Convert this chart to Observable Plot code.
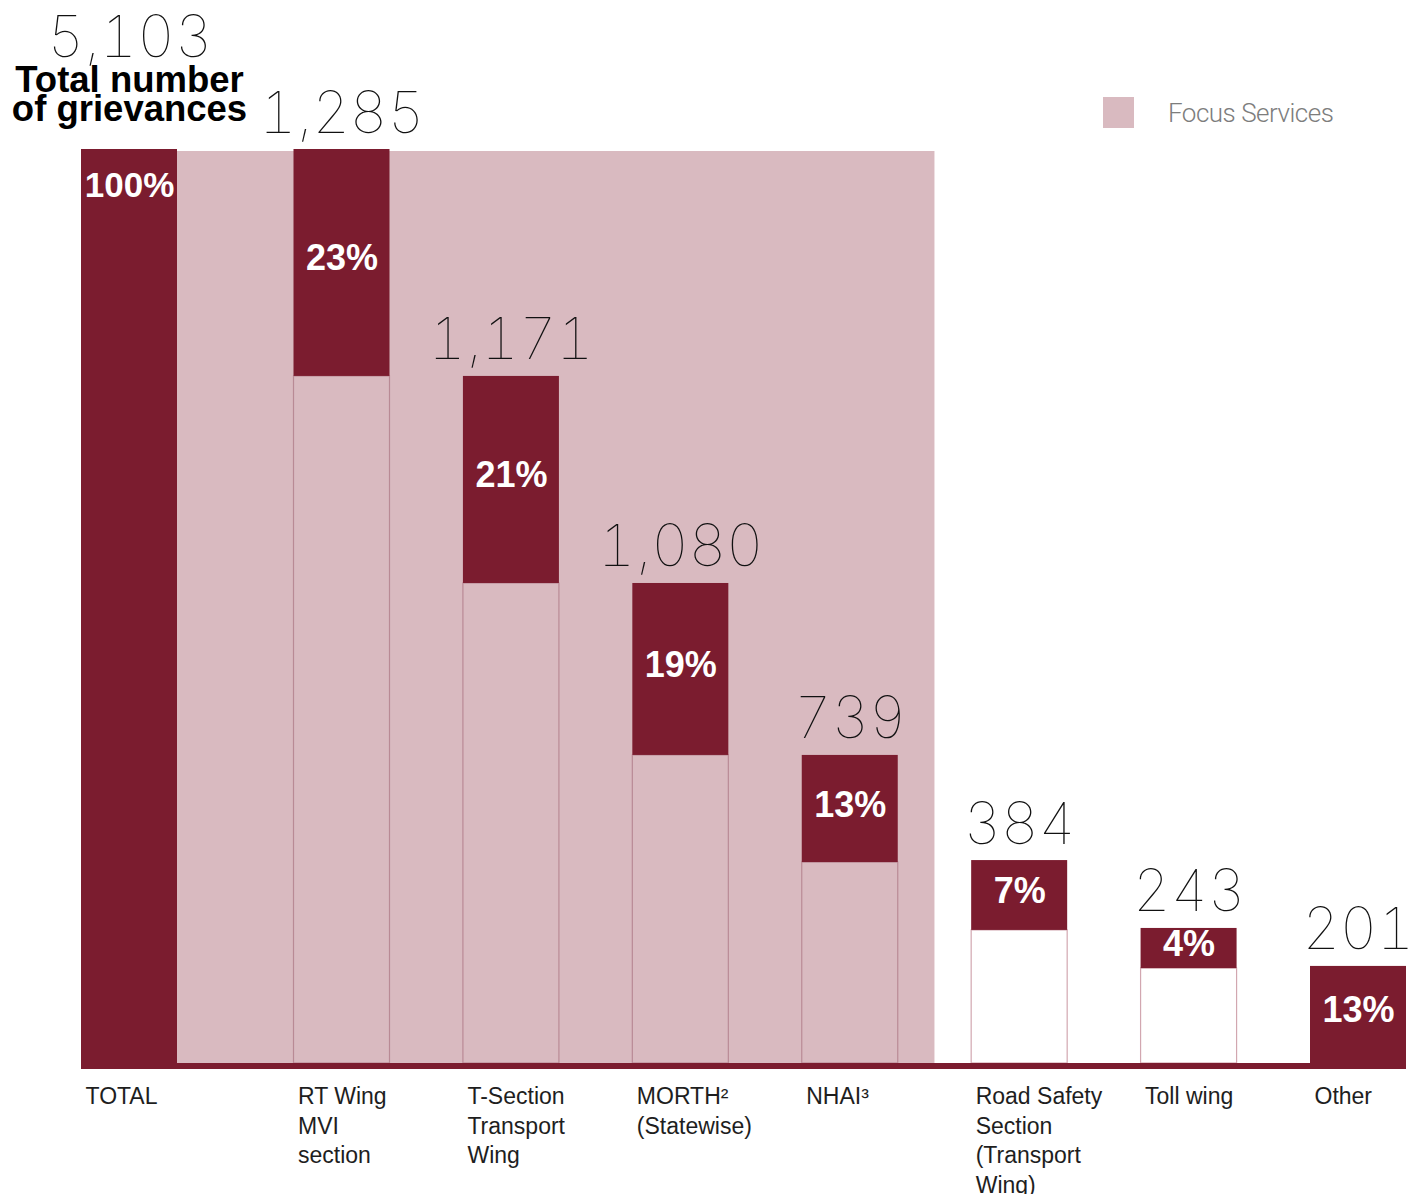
<!DOCTYPE html>
<html>
<head>
<meta charset="utf-8">
<script src="https://cdn.jsdelivr.net/npm/d3@7"></script>
<script src="https://cdn.jsdelivr.net/npm/@observablehq/plot@0.6"></script>
<style>
  html, body { margin: 0; padding: 0; background: #ffffff; }
  #wrap { position: relative; width: 1414px; height: 1194px; overflow: hidden; background: #ffffff; }
  #legend { position: absolute; left: 1103px; top: 97px; height: 31px; display: flex; align-items: center; }
  #legend .sw { display: inline-block; width: 31px; height: 31px; background: #d9bac0; }
  #legend .lt { margin-left: 34px; font-family: Roboto, "Open Sans", sans-serif; font-weight: 300; font-size: 26px; color: #7d7d7d; letter-spacing: -0.5px; }
  svg g[font-size="58"] { font-variant-numeric: tabular-nums; font-feature-settings: "tnum" 1; }
</style>
</head>
<body>
<div id="wrap">
  <div id="chart"></div>
  <div id="legend"><span class="sw"></span><span class="lt" id="legendText"></span></div>
</div>
<script>
// ---- data ----
const categories = ["TOTAL", "RT Wing\nMVI\nsection", "T-Section\nTransport\nWing", "MORTH²\n(Statewise)", "NHAI³", "Road Safety\nSection\n(Transport\nWing)", "Toll wing", "Other"];
const values = [5103, 1285, 1171, 1080, 739, 384, 243, 201];
const shares = ["100%", "23%", "21%", "19%", "13%", "7%", "4%", "13%"];
const focus = [false, true, true, true, true, false, false, false];
// dark segment extents as drawn in the picture (grievance units)
const segTop = [5103, 5103, 3836, 2680, 1720, 1133, 754, 542];
const segBottom = [0, 3836, 2680, 1720, 1122, 743, 530, 0];
const totalTitle = "Total number\nof grievances";
const legendLabel = "Focus Services";

// ---- styling ----
const dark = "#7b1c2f";
const pink = "#d9bac0";
const half = 48;
const sans = "'Liberation Sans', Arial, Helvetica, sans-serif";
const thin = "Inter, Roboto, 'Open Sans', sans-serif";

const rows = categories.map((c, i) => ({
  i, category: c, value: values[i], share: shares[i], focus: focus[i], top: segTop[i], bottom: segBottom[i]
}));
const lastFocus = d3.max(rows.filter(d => d.focus), d => d.i);
const fmt = d3.format(",");

const chart = Plot.plot({
  width: 1414,
  height: 1194,
  margin: 0,
  style: { background: "transparent", overflow: "visible" },
  x: { type: "linear", domain: [0, 1, categories.length - 1], range: [129, 341.5, 1358], axis: null },
  y: { domain: [0, values[0]], range: [1063, 149], axis: null },
  marks: [
    // focus services background
    Plot.rect([{ a: 0, b: lastFocus + 0.5 }], { x1: "a", x2: "b", y1: 0, y2: values[0], insetLeft: half, insetTop: 2, fill: pink }),
    // remaining part of each bar (outline)
    Plot.rect(rows.filter(d => d.i > 0 && d.bottom > 0 && d.focus), { x1: "i", x2: "i", y1: 0, y2: "bottom", insetLeft: -half, insetRight: -half, fill: pink, stroke: "#b98a95", strokeWidth: 1.2 }),
    Plot.rect(rows.filter(d => d.i > 0 && d.bottom > 0 && !d.focus), { x1: "i", x2: "i", y1: 0, y2: "bottom", insetLeft: -half, insetRight: -half, fill: "white", stroke: "#d2a7b0", strokeWidth: 1.2 }),
    // dark segments
    Plot.rect(rows, { x1: "i", x2: "i", y1: "bottom", y2: "top", insetLeft: -half, insetRight: -half, fill: dark }),
    // baseline band
    Plot.rect([0], { x1: 0, x2: categories.length - 1, y1: 0, y2: 0, insetLeft: -half, insetRight: -half, insetBottom: -6, fill: dark }),
    // percentages
    Plot.text(rows.filter(d => d.i > 0), { x: "i", y: d => (d.top + d.bottom) / 2, text: "share", dy: -4, fill: "white", fontSize: 36, fontWeight: "bold", fontFamily: sans }),
    Plot.text(rows.filter(d => d.i === 0), { x: "i", y: "top", text: "share", dy: 36, fill: "white", fontSize: 35, fontWeight: "bold", fontFamily: sans }),
    // values
    Plot.text(rows.filter(d => d.i > 0), { x: "i", y: "top", text: d => fmt(d.value), lineAnchor: "bottom", dy: -17, fill: "#111", fontSize: 58, fontWeight: 100, fontFamily: thin }),
    Plot.text(rows.filter(d => d.i === 0), { x: "i", y: "top", text: d => fmt(d.value), lineAnchor: "bottom", dy: -93, fill: "#111", fontSize: 58, fontWeight: 100, fontFamily: thin }),
    // total title
    Plot.text(rows.filter(d => d.i === 0), { x: "i", y: "top", text: () => totalTitle, lineAnchor: "bottom", dy: -29, lineHeight: 0.78, fill: "#000", fontSize: 36.5, fontWeight: "bold", fontFamily: sans }),
    // category labels
    Plot.text(rows, { x: "i", y: 0, text: "category", lineAnchor: "top", textAnchor: "start", dx: -44, dy: 20, lineHeight: 1.28, fill: "#1e1e1e", fontSize: 23, fontFamily: sans })
  ]
});
document.getElementById("chart").appendChild(chart);
document.getElementById("legendText").textContent = legendLabel;
</script>
</body>
</html>
